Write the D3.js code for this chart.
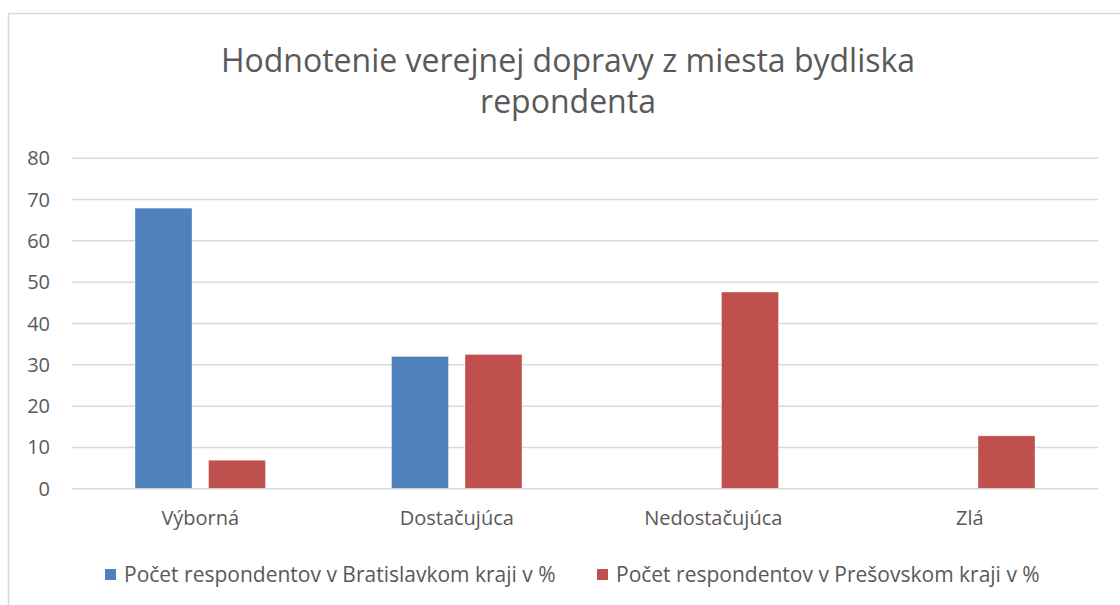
<!DOCTYPE html>
<html>
<head>
<meta charset="utf-8">
<script src="https://cdn.jsdelivr.net/npm/d3@7"></script>
<style>
  html, body { margin: 0; padding: 0; background: #fff; }
  svg { display: block; font-family: "Open Sans", "Noto Sans", sans-serif; }
</style>
</head>
<body>
<svg id="chart" width="1120" height="605"></svg>
<script>
const titleLines = ["Hodnotenie verejnej dopravy z miesta bydliska", "repondenta"];
const categories = ["Výborná", "Dostačujúca", "Nedostačujúca", "Zlá"];
const seriesNames = ["Počet respondentov v Bratislavkom kraji v %", "Počet respondentov v Prešovskom kraji v %"];
const bratislava = [67.8, 31.9, null, null];
const presov = [6.8, 32.4, 47.5, 12.7];
const yTicks = [0, 10, 20, 30, 40, 50, 60, 70, 80];
const colors = ["#4f81bd", "#c0504d"];

const svg = d3.select("#chart");
const textColor = "#595959";

// outer chart border
svg.append("rect")
  .attr("x", 8.5).attr("y", 13.5)
  .attr("width", 1130).attr("height", 620)
  .attr("fill", "#fff").attr("stroke", "#d9d9d9").attr("stroke-width", 1.5);

const plot = { left: 72, right: 1098, top: 157.7, bottom: 488.3 };

const y = d3.scaleLinear().domain([0, 80]).range([plot.bottom, plot.top]);
const x0 = d3.scaleBand().domain(categories).range([plot.left, plot.right]).paddingInner(0).paddingOuter(0);
const x1 = d3.scaleBand().domain([0, 1]).range([0, x0.bandwidth()]).paddingInner(0.2245).paddingOuter(0.857);

// title
const title = svg.append("text")
  .attr("text-anchor", "middle")
  .attr("fill", textColor)
  .attr("font-size", 32);
titleLines.forEach((t, i) => {
  title.append("tspan").attr("x", 568).attr("y", 72 + i * 41).text(t);
});

// gridlines + y axis
const yAxis = d3.axisLeft(y).tickValues(yTicks).tickSize(-(plot.right - plot.left)).tickPadding(22);
const gy = svg.append("g").attr("transform", `translate(${plot.left},0)`).call(yAxis);
gy.select(".domain").remove();
gy.selectAll(".tick line").attr("stroke", "#d9d9d9").attr("stroke-width", 1.5);
gy.selectAll(".tick text").attr("fill", textColor).attr("font-size", 20)
  .attr("font-family", "'Open Sans', sans-serif").attr("dy", "0.35em");

// x axis labels
const xAxis = d3.axisBottom(x0).tickSize(0).tickPadding(23);
const gx = svg.append("g").attr("transform", `translate(0,${plot.bottom})`).call(xAxis);
gx.select(".domain").remove();
gx.selectAll(".tick text").attr("fill", textColor).attr("font-size", 20)
  .attr("font-family", "'Open Sans', sans-serif");

// bars
const data = categories.map((c, i) => ({ cat: c, vals: [bratislava[i], presov[i]] }));
const groups = svg.append("g").selectAll("g").data(data).join("g")
  .attr("transform", d => `translate(${x0(d.cat)},0)`);
groups.selectAll("rect")
  .data(d => d.vals.map((v, s) => ({ v, s })).filter(e => e.v != null))
  .join("rect")
  .attr("x", d => x1(d.s))
  .attr("width", x1.bandwidth())
  .attr("y", d => y(d.v))
  .attr("height", d => y(0) - y(d.v))
  .attr("fill", d => colors[d.s])
  .attr("stroke", "#fff").attr("stroke-opacity", 0.5).attr("stroke-width", 0.75);

// legend
const legendX = [105, 597];
const legend = svg.append("g");
seriesNames.forEach((name, i) => {
  legend.append("rect")
    .attr("x", legendX[i]).attr("y", 569)
    .attr("width", 11).attr("height", 11)
    .attr("fill", colors[i]);
  legend.append("text")
    .attr("x", legendX[i] + 19).attr("y", 582)
    .attr("fill", textColor).attr("font-size", 21)
    .text(name);
});
</script>
</body>
</html>
